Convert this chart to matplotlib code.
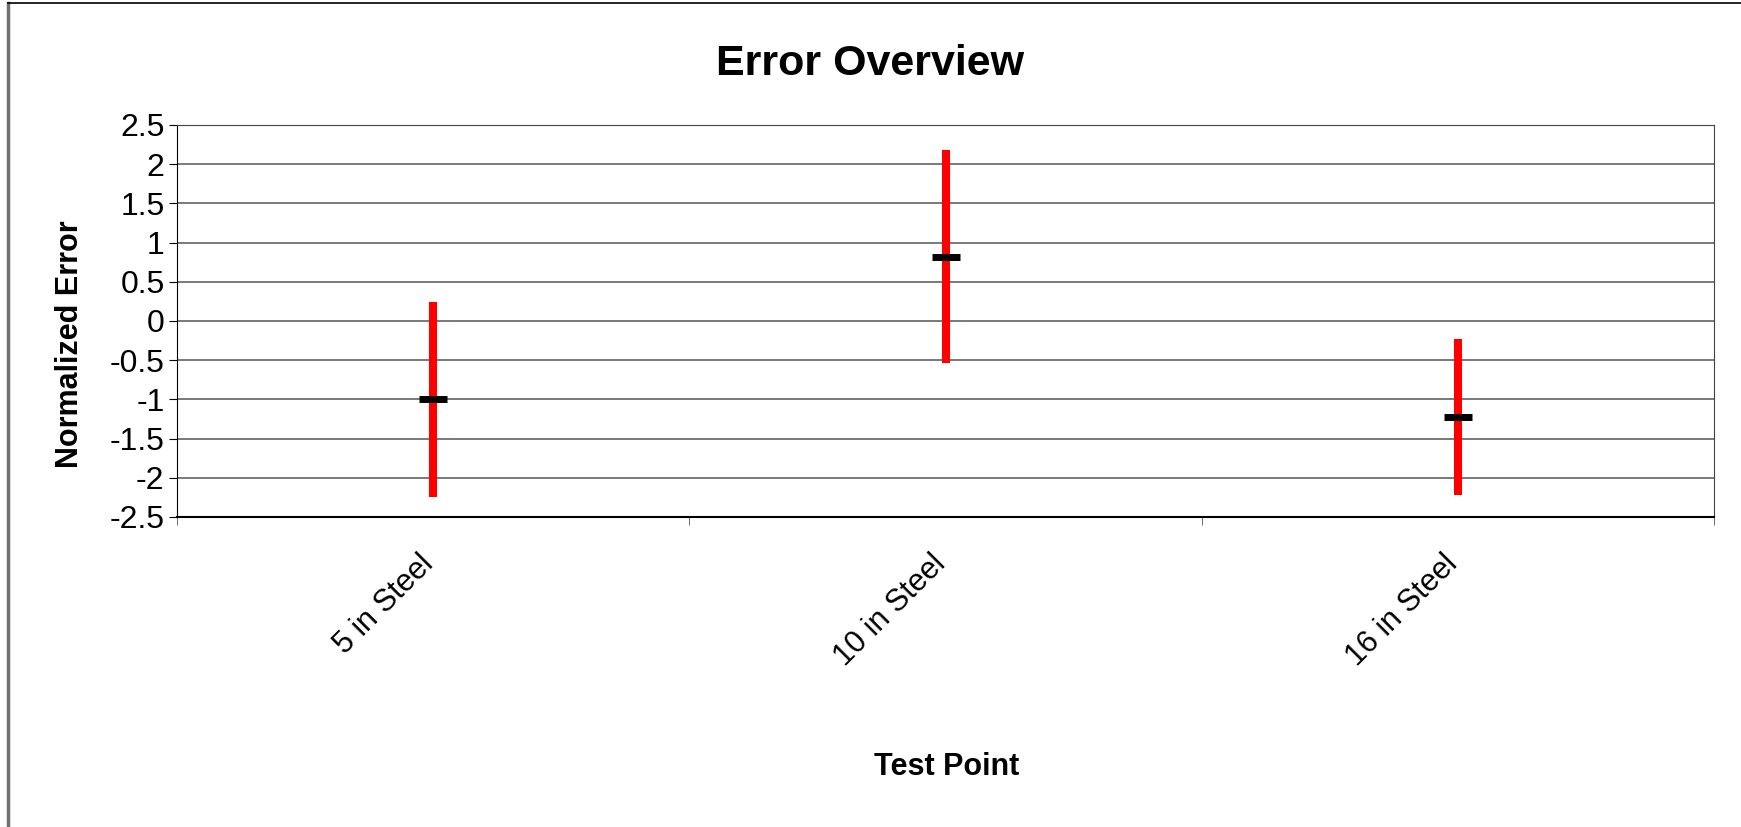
import numpy as np
import matplotlib.pyplot as plt
import matplotlib.transforms as mtransforms
from matplotlib.lines import Line2D

plt.rcParams['font.family'] = ['Liberation Sans', 'DejaVu Sans']

# data
test_points = ['5 in Steel', '10 in Steel', '16 in Steel']
norm_error = [-1.0, 0.81, -1.23]
err_low = [1.24, 1.35, 0.99]
err_high = [1.24, 1.37, 1.0]
y_ticks = [-2.5, -2, -1.5, -1, -0.5, 0, 0.5, 1, 1.5, 2, 2.5]

fig = plt.figure(figsize=(17.41, 8.27), dpi=100)
ax = fig.add_axes([0.1017, 0.3749, 0.8828, 0.4740])

x = np.arange(len(test_points))
ax.errorbar(x, norm_error, yerr=[err_low, err_high], fmt='none',
            ecolor='#ff0000', elinewidth=5.8, capsize=0, zorder=3)
ax.plot(x, norm_error, linestyle='none', marker='_', color='black',
        markersize=20, markeredgewidth=5, zorder=4)

ax.set_xlim(-0.5, len(test_points) - 0.5)
ax.set_ylim(-2.5, 2.5)
ax.set_yticks(y_ticks)
ax.set_yticklabels([('%g' % v) for v in y_ticks])
ax.yaxis.grid(True, color='#555555', linewidth=1.1)
ax.set_axisbelow(True)

ax.set_xticks(x)
ax.set_xticklabels(test_points, rotation=45, ha='right', rotation_mode='default')
ax.set_xticks(np.arange(-0.5, len(test_points)), minor=True)
ax.tick_params(axis='x', which='major', length=0, pad=23, labelsize=22)
ax.tick_params(axis='x', which='minor', length=6, direction='out', color='#555555')
ax.tick_params(axis='y', length=6, direction='out', labelsize=23, pad=3)

# nudge category labels a little to the right
shift = mtransforms.ScaledTranslation(6 / 100, 0, fig.dpi_scale_trans)
for lbl in ax.get_xticklabels():
    lbl.set_transform(lbl.get_transform() + shift)

for s in ['top', 'right']:
    ax.spines[s].set_color('#444444')
ax.spines['left'].set_color('black')
ax.spines['bottom'].set_color('black')
ax.spines['bottom'].set_linewidth(1.5)

fig.text(0.4997, 0.909, 'Error Overview', ha='center', va='baseline',
         fontsize=31, fontweight='bold')
fig.text(0.544, 0.0629, 'Test Point', ha='center', va='baseline',
         fontsize=22, fontweight='bold')
fig.text(0.040, 0.584, 'Normalized Error', ha='center', va='center',
         rotation=90, fontsize=22, fontweight='bold')

# outer chart border (left and top visible)
fig.add_artist(Line2D([0.0045, 0.0045], [0, 0.9965], color='#707070', lw=2.5,
                      transform=fig.transFigure))
fig.add_artist(Line2D([0.0045, 1.0], [0.9965, 0.9965], color='black', lw=1.2,
                      transform=fig.transFigure))

fig.savefig('out.png', dpi=100)
